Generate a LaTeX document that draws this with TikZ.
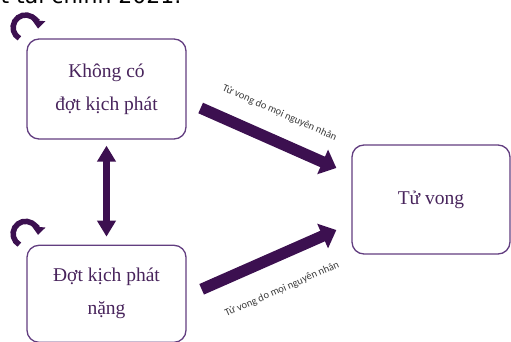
\documentclass[tikz,border=0pt]{standalone}
\usepackage{fontspec}
\setmainfont{Liberation Serif}
\newfontfamily\lblfont{Carlito}
\newfontfamily\hdrfont{DejaVu Sans}
\usetikzlibrary{positioning}
\usetikzlibrary{arrows.meta}
\definecolor{boxline}{RGB}{98,62,128}
\definecolor{boxtext}{RGB}{72,36,92}
\definecolor{arrowfill}{RGB}{60,16,80}
\definecolor{lbltext}{RGB}{60,60,60}

\tikzset{
  state/.style={draw=boxline, line width=1.3, rounded corners=12pt, text=boxtext,
    align=center, font=\fontsize{19.5}{33}\selectfont, minimum width=159pt},
  fat/.style={arrowfill, line width=11.5, -{Triangle[length=15pt,width=26pt]}},
  both/.style={arrowfill, line width=7, {Triangle[length=16pt,width=18pt]}-{Triangle[length=16pt,width=18pt]}},
  curl/.style={arrowfill, line width=5.5, -{Triangle[length=8pt,width=13pt]}},
  cause/.style={text=lbltext, inner sep=0, font=\lblfont\fontsize{10.5}{12}\selectfont}
}

\begin{document}
\begin{tikzpicture}[x=1pt, y=1pt]
        \useasboundingbox (0,0) rectangle (511,342);
        % nodes %
        \node[anchor=base east, font=\hdrfont\fontsize{22}{26}\selectfont] (hdr) at (185,338) {t tài chính 2021.};
        \node[state, minimum height=100pt] (kc) at (106.5,253) {Không có\\đợt kịch phát};
        \node[state, minimum height=97pt, below=105pt of kc] (dk) {Đợt kịch phát\\nặng};
        \node[state, minimum width=158pt, minimum height=109pt] (tv) at (431,142.5) {Tử vong};

        % edges %
        \draw[both] ([yshift=-6pt]kc.south) -- ([yshift=8pt]dk.north);
        \draw[fat] ([xshift=14pt,yshift=-19pt]kc.east) -- ([xshift=-15pt,yshift=31.5pt]tv.west)
            node[cause, midway, sloped, above=17pt] {Tử vong do mọi nguyên nhân};
        \draw[fat] ([xshift=15pt,yshift=4.5pt]dk.east) -- ([xshift=-15pt,yshift=-30.5pt]tv.west)
            node[cause, midway, sloped, below=22pt] {Tử vong do mọi nguyên nhân};
        % self loops %
        \draw[curl] ([xshift=-7pt,yshift=0pt]kc.north west) arc[start angle=240, end angle=-5, radius=12.5pt];
        \draw[curl] ([xshift=-7pt,yshift=0pt]dk.north west) arc[start angle=240, end angle=-5, radius=12.5pt];
\end{tikzpicture}
\end{document}
